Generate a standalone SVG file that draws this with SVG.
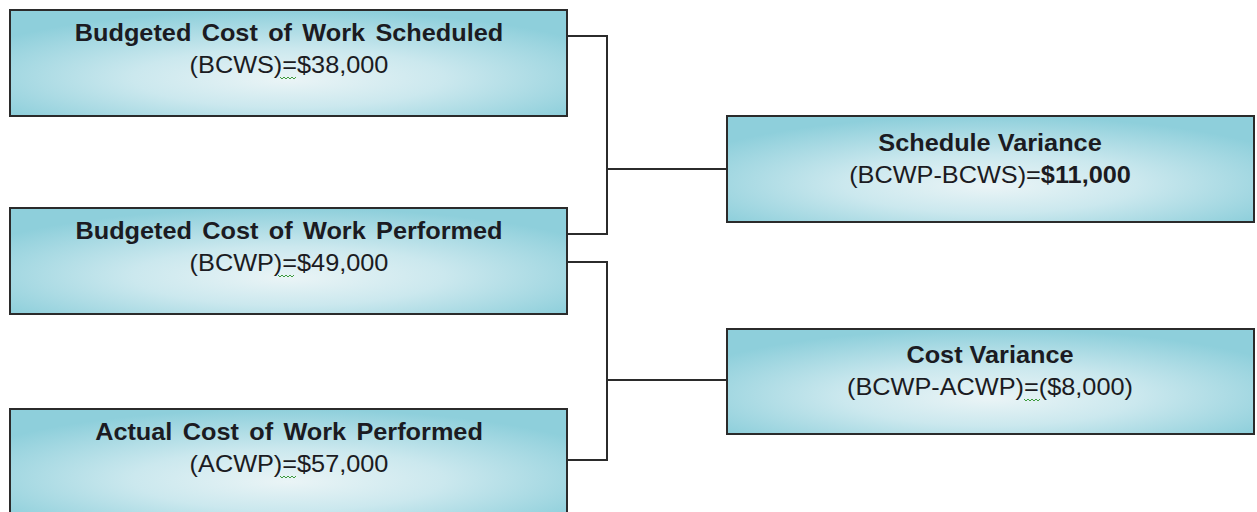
<svg xmlns="http://www.w3.org/2000/svg" width="1257" height="512" viewBox="0 0 1257 512">
<defs>
<radialGradient id="fill" cx="0.5" cy="0.62" r="0.62" fx="0.5" fy="0.66">
<stop offset="0" stop-color="#eaf4f6"/>
<stop offset="0.45" stop-color="#cbe8ee"/>
<stop offset="1" stop-color="#8ecfdb"/>
</radialGradient>
<style>
.box{fill:url(#fill);stroke:#2b2b2b;stroke-width:2}
.conn{fill:none;stroke:#2b2b2b;stroke-width:2}
.t1{font-family:"Liberation Sans",Arial,sans-serif;font-size:23px;font-weight:bold;fill:#1b1b22;text-anchor:middle}
.t2{font-family:"Liberation Sans",Arial,sans-serif;font-size:23px;font-weight:normal;fill:#1b1b22;text-anchor:middle}
.b{font-weight:bold}
.sq{fill:none;stroke:#3c9a3c;stroke-width:1}
</style>
</defs>
<rect width="1257" height="512" fill="#ffffff"/>
<g id="connectors">
<path class="conn" d="M567,36 H607 V234 H567"/>
<path class="conn" d="M607,169 H727"/>
<path class="conn" d="M567,262 H607 V460 H567"/>
<path class="conn" d="M607,380 H727"/>
</g>
<g id="bcws">
<rect class="box" x="10" y="10" width="557" height="106"/>
<g transform="translate(289,0) scale(1.1,1)">
<text class="t1" x="0" y="41" word-spacing="3">Budgeted Cost of Work Scheduled</text>
<text class="t2" x="0" y="73">(BCWS)=$38,000</text>
</g>
<polyline class="sq" points="280,77 282,79 284,77 286,79 288,77 290,79 292,77 294,79 296,77"/>
</g>
<g id="bcwp">
<rect class="box" x="10" y="208" width="557" height="106"/>
<g transform="translate(289,0) scale(1.1,1)">
<text class="t1" x="0" y="239" word-spacing="3">Budgeted Cost of Work Performed</text>
<text class="t2" x="0" y="271">(BCWP)=$49,000</text>
</g>
<polyline class="sq" points="278,275 280,277 282,275 284,277 286,275 288,277 290,275 292,277 294,275"/>
</g>
<g id="acwp">
<rect class="box" x="10" y="409" width="557" height="110"/>
<g transform="translate(289,0) scale(1.1,1)">
<text class="t1" x="0" y="440" word-spacing="3">Actual Cost of Work Performed</text>
<text class="t2" x="0" y="472">(ACWP)=$57,000</text>
</g>
<polyline class="sq" points="280,476 282,478 284,476 286,478 288,476 290,478 292,476 294,478 296,476"/>
</g>
<g id="sv">
<rect class="box" x="727" y="116" width="527" height="106"/>
<g transform="translate(990,0) scale(1.1,1)">
<text class="t1" x="0" y="151">Schedule Variance</text>
<text class="t2" x="0" y="183">(BCWP-BCWS)=<tspan class="b">$11,000</tspan></text>
</g>
</g>
<g id="cv">
<rect class="box" x="727" y="329" width="527" height="105"/>
<g transform="translate(990,0) scale(1.1,1)">
<text class="t1" x="0" y="363">Cost Variance</text>
<text class="t2" x="0" y="395">(BCWP-ACWP)=($8,000)</text>
</g>
<polyline class="sq" points="1024,399 1026,401 1028,399 1030,401 1032,399 1034,401 1036,399 1038,401 1040,399"/>
</g>
</svg>
